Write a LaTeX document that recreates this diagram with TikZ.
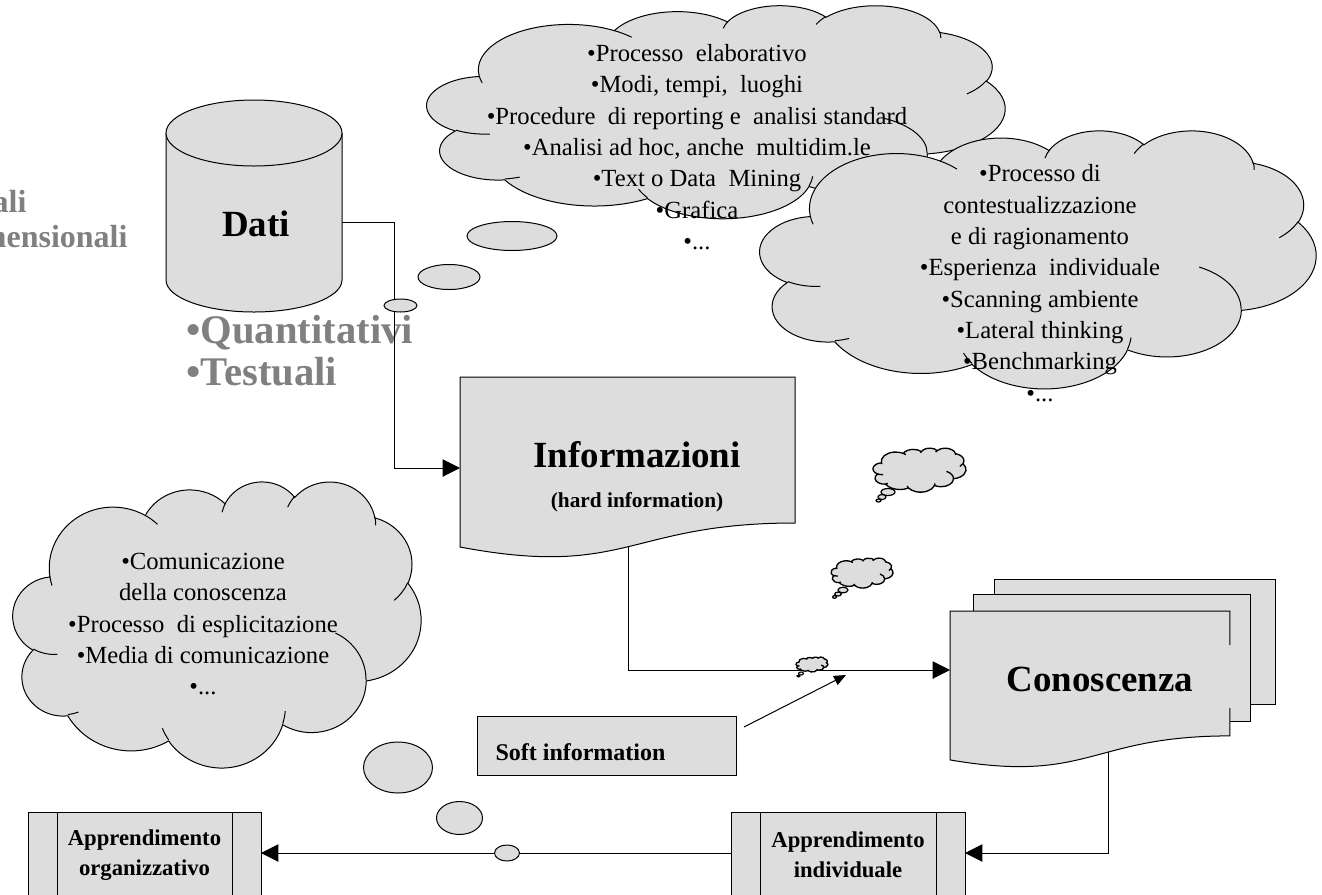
\documentclass[tikz,border=0pt]{standalone}
\usepackage{fontspec}
\setmainfont{Liberation Serif}
\usetikzlibrary{arrows.meta}

\definecolor{shapefill}{HTML}{DDDDDD}
\definecolor{softgray}{HTML}{808080}

% One lobe of a cloud: radii, start angle and sweep (degrees, angles as seen on the ellipse)
\newcommand\lobe[4]{arc[x radius=#1, y radius=#2,
  start angle={atan2((#1)*sin(#3),(#2)*cos(#3))},
  delta angle={mod(atan2((#1)*sin((#3)+(#4)),(#2)*cos((#3)+(#4)))-atan2((#1)*sin(#3),(#2)*cos(#3))+720,360)}]}

% Cloud outline in a 432 x 432 box (y downwards)
\newcommand\cloudpath{%
  (39.00,143.70)
  \lobe{67.53}{91.90}{-190.4875}{123.7805}
  \lobe{53.33}{72.67}{-144.1024}{89.9452}
  \lobe{43.65}{59.45}{-145.8079}{99.7230}
  \lobe{48.57}{65.95}{-130.9861}{117.2417}
  \lobe{53.33}{72.73}{-78.7089}{109.0269}
  \lobe{67.75}{92.20}{-46.2673}{130.2690}
  \lobe{57.85}{78.67}{0.6250}{114.0333}
  \lobe{67.52}{92.15}{22.4516}{115.1726}
  \lobe{77.20}{105.43}{66.2426}{75.7110}
  \lobe{43.60}{59.18}{-274.9421}{146.7356}
  \lobe{43.45}{59.45}{-246.8285}{152.5189}
  -- cycle}

% Short inner strokes where the lobes meet
\newcommand\cloudcreases{%
  (46.93,261.77) \lobe{43.45}{59.45}{86.7420}{26.4295}
  (69.28,348.99) \lobe{43.60}{59.18}{73.6105}{11.4475}
  (164.78,390.90) \lobe{67.52}{92.15}{137.6242}{14.0811}
  (288.27,347.51) \lobe{67.52}{92.15}{6.4533}{15.9984}
  (341.29,229.54) \lobe{57.85}{78.67}{-70.2924}{70.9174}
  (417.98,153.54) \lobe{53.33}{72.73}{30.3180}{27.7515}
  (383.24,54.26) \lobe{48.57}{65.95}{-13.7443}{14.8589}
  (290.78,39.52) \lobe{48.57}{65.95}{-149.1815}{18.1954}
  (221.41,47.20) \lobe{43.65}{59.45}{-163.4943}{17.6864}
  (140.00,51.92) \lobe{67.53}{91.90}{-66.7070}{12.3194}
  (41.27,157.89) \lobe{67.53}{91.90}{157.6544}{11.8582}}

% \cloudat{style}{left}{top}{width}{height}, all in pixels
\newcommand\cloudat[5]{%
  \pgfmathsetmacro\cux{#4*0.75/432}%
  \pgfmathsetmacro\cuy{-#5*0.75/432}%
  \begin{scope}[shift={(#2,#3)}, x=\cux pt, y=\cuy pt]
    \path[cloudbody, #1] \cloudpath;
    \draw[cloudcrease, #1] \cloudcreases;
  \end{scope}}

\begin{document}
\begin{tikzpicture}[x=0.75pt, y=-0.75pt, line width=0.75pt,
  cloudbody/.style={fill=shapefill, draw=black, line width=0.75pt},
  cloudcrease/.style={draw=black, line width=0.75pt},
  boxbody/.style={fill=shapefill, draw=black},
  link/.style={draw=black, line width=0.75pt},
  bigtip/.style={-{Triangle[length=13pt,width=13pt]}},
  smalltip/.style={-{Triangle[length=9pt,width=7.5pt]}},
  bubble/.style={fill=shapefill, draw=black, line width=0.75pt},
  cloudtext/.style={align=center, inner sep=0pt, font=\fontsize{18.5}{23.5}\selectfont},
  bigname/.style={inner sep=0pt, font=\bfseries\fontsize{27.7}{33}\selectfont},
  hardnote/.style={inner sep=0pt, font=\bfseries\fontsize{16}{19}\selectfont},
  boxtext/.style={align=center, inner sep=0pt, font=\bfseries\fontsize{17}{22.5}\selectfont},
  greybig/.style={inner sep=0pt, text=softgray, font=\bfseries\fontsize{30.5}{36}\selectfont},
  greysmall/.style={inner sep=0pt, text=softgray, font=\bfseries\fontsize{24}{28}\selectfont},
  smallcloud/.style={line width=1pt},
]
\useasboundingbox (0,0) rectangle (1322,894);

% grey captions at the left margin
\node[greysmall, anchor=base east] (gcap1) at (27,212) {ali};
\node[greysmall, anchor=base east] (gcap2) at (128,247) {mensionali};
\node[greybig, anchor=base west] (quant) at (186,343) {•Quantitativi};
\node[greybig, anchor=base west] (testu) at (186,385) {•Testuali};

% processing cloud
\cloudat{}{427}{5}{578}{213}
\node[cloudtext] (proc) at (697,147) {•Processo\ \ elaborativo\\
  •Modi, tempi,\ \ luoghi\\
  •Procedure\ \ di reporting e\ \ analisi standard\\
  •Analisi ad hoc, anche\ \ multidim.le\\
  •Text o Data\ \ Mining\\
  •Grafica\\
  •...};

% reasoning cloud
\cloudat{}{760}{130}{556}{258}
\node[cloudtext] (reason) at (1040,283) {•Processo di\\
  contestualizzazione\\
  e di ragionamento\\
  •Esperienza\ \ individuale\\
  •Scanning ambiente\\
  •Lateral thinking\\
  •Benchmarking\\
  •...};

% communication cloud
\cloudat{}{13}{481}{408}{286}
\node[cloudtext] (comm) at (203,624) {•Comunicazione\\
  della conoscenza\\
  •Processo\ \ di esplicitazione\\
  •Media di comunicazione\\
  •...};

% Dati: database cylinder
\path[boxbody] (166,133) -- (166,280) arc[x radius=88, y radius=32, start angle=180, end angle=0] -- (342,133);
\draw[boxbody] (254,133) ellipse[x radius=88, y radius=33];
\node[bigname] (dati) at (256,224) {Dati};

% Informazioni: document
\draw[boxbody] (460,377) -- (795,377) -- (795,523)
  .. controls (627.5,523) and (627.5,578.6) .. (460,547) -- cycle;
\node[bigname] (info) at (637,455) {Informazioni};
\node[hardnote] (hard) at (637,502) {(hard information)};

% Conoscenza: stacked documents
\draw[boxbody] (994.7,579) rectangle (1275,704.5);
\draw[boxbody] (973,594.8) rectangle (1250.9,721);
\fill[shapefill] (950,611) -- (1229.8,611) -- (1229.8,735.9)
  .. controls (1089.9,735.9) and (1089.9,783.9) .. (950,759.9) -- cycle;
\draw (1229.8,645) -- (1229.8,611) -- (950,611) -- (950,759.9)
  .. controls (1089.9,783.9) and (1089.9,735.9) .. (1229.8,735.9) -- (1229.8,708);
\node[bigname] (con) at (1100,679) {Conoscenza};

% Soft information
\draw[boxbody] (477,716) rectangle (736,775);
\node[anchor=west, inner sep=0pt, font=\bfseries\fontsize{18}{21}\selectfont] (soft) at (495,752) {Soft information};

% learning boxes (predefined process)
\draw[boxbody] (28,812) rectangle (261,900);
\draw (57,812) -- (57,900) (232,812) -- (232,900);
\node[boxtext] (org) at (144.5,855) {Apprendimento\\organizzativo};
\draw[boxbody] (731,812) rectangle (965,900);
\draw (760,812) -- (760,900) (936,812) -- (936,900);
\node[boxtext] (ind) at (848,855) {Apprendimento\\individuale};

% connection points
\coordinate (dati-out) at (342,222);
\coordinate (info-in) at (460,468);
\coordinate (info-out) at (628,547);
\coordinate (con-in) at (950,670);
\coordinate (con-out) at (1108,752);
\coordinate (ind-in) at (965,853);
\coordinate (ind-out) at (731,853);
\coordinate (org-in) at (261,853);
\coordinate (soft-out) at (744,727);
\coordinate (soft-tip) at (846,675);

% connectors
\draw[link, bigtip] (dati-out) -- ++(52,0) |- (info-in);
\draw[link, bigtip] (info-out) |- (con-in);
\draw[link, bigtip] (con-out) |- (ind-in);
\draw[link, bigtip] (ind-out) -- (org-in);
\draw[link, smalltip] (soft-out) -- (soft-tip);

% thought bubbles
\draw[bubble] (400.5,305.5) ellipse[x radius=16.5, y radius=6.5];
\draw[bubble] (449,277) ellipse[x radius=31, y radius=12.5];
\draw[bubble] (512,236) ellipse[x radius=45, y radius=14.5];
\draw[bubble] (398,767.5) ellipse[x radius=34.5, y radius=25.5];
\draw[bubble] (459.5,818) ellipse[x radius=23, y radius=16.5];
\draw[bubble] (507,853) ellipse[x radius=12.5, y radius=8];

% small clouds towards Conoscenza
\cloudat{smallcloud}{873}{448}{93}{44}
\draw[bubble, line width=0.9pt] (888,492) ellipse[x radius=7, y radius=3.5];
\draw[bubble, line width=0.9pt] (882,497) ellipse[x radius=4, y radius=2.5];
\draw[bubble, line width=0.9pt] (878.5,500.5) ellipse[x radius=2.5, y radius=1.5];
\cloudat{smallcloud}{831}{558}{62}{30}
\draw[bubble, line width=0.9pt] (843,590) ellipse[x radius=5, y radius=2.8];
\draw[bubble, line width=0.9pt] (838,594) ellipse[x radius=3.3, y radius=2];
\draw[bubble, line width=0.9pt] (834.5,597) ellipse[x radius=2, y radius=1.3];
\cloudat{smallcloud}{796}{657}{32}{15}
\draw[bubble, line width=0.8pt] (801,673.5) ellipse[x radius=2.5, y radius=1.5];
\draw[bubble, line width=0.8pt] (798.5,676) ellipse[x radius=1.6, y radius=1];
\end{tikzpicture}
\end{document}
